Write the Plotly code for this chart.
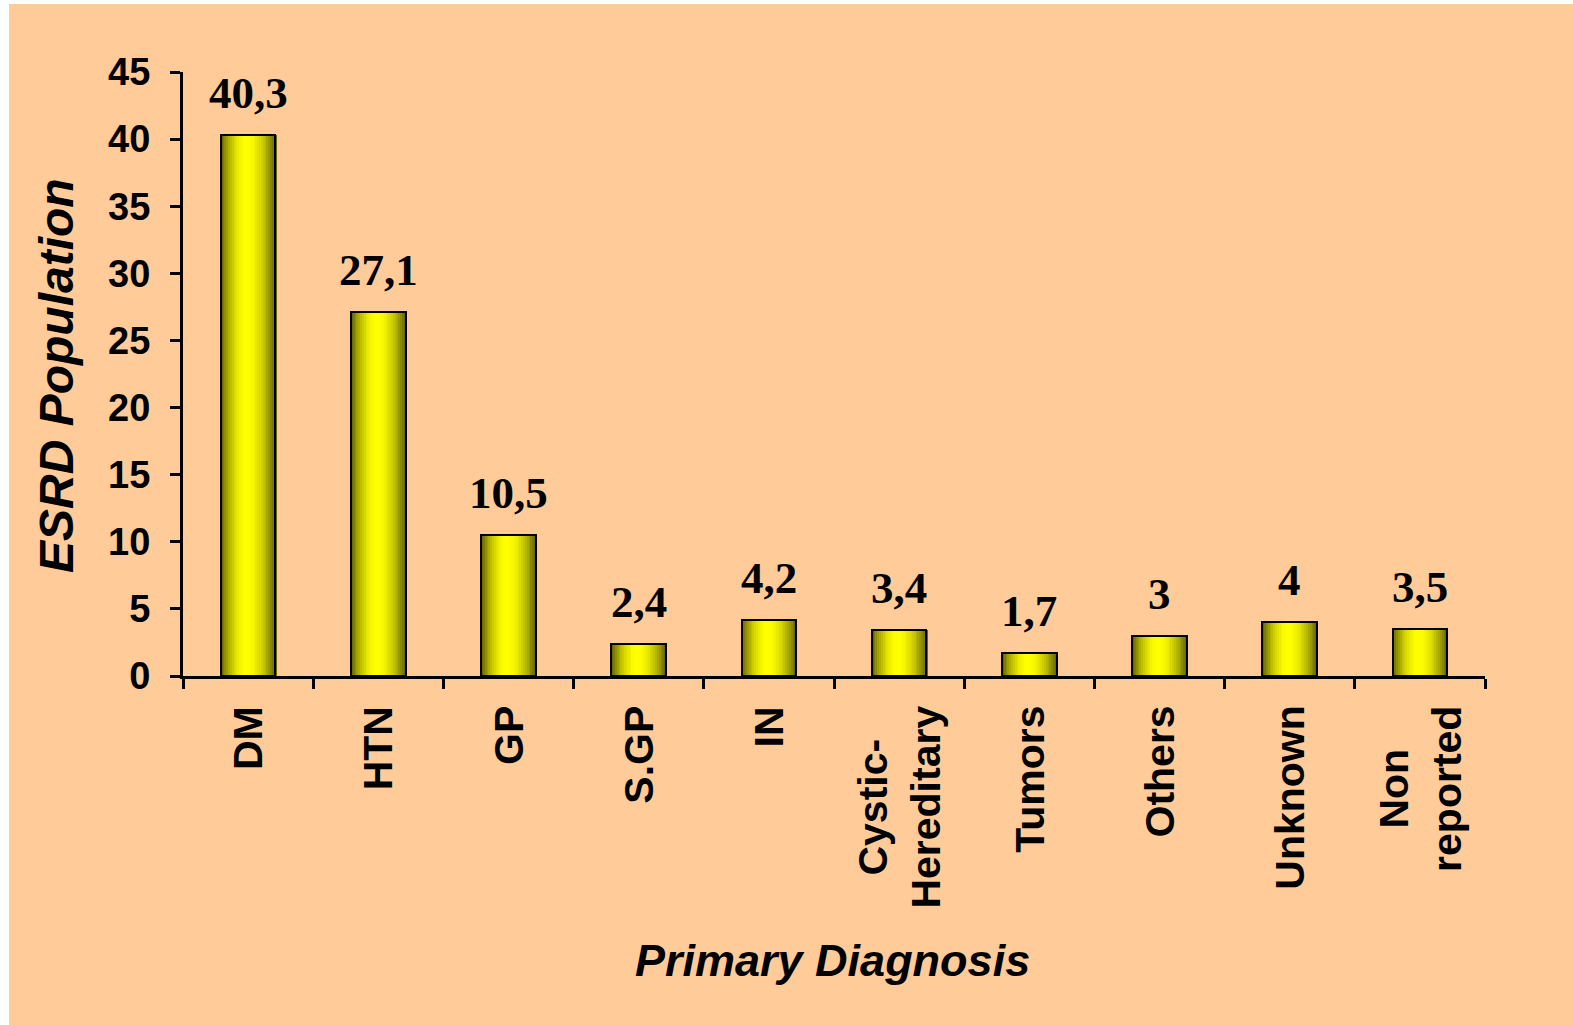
import math
import plotly.graph_objects as go

# Primary diagnosis of the ESRD population (%)
categories = ["DM", "HTN", "GP", "S.GP", "IN", "Cystic-<br>Hereditary",
              "Tumors", "Others", "Unknown", "Non<br>reported"]
values = [40.3, 27.1, 10.5, 2.4, 4.2, 3.4, 1.7, 3, 4, 3.5]
y_ticks = [0, 5, 10, 15, 20, 25, 30, 35, 40, 45]

BG = "#FFCC99"
SANS = "Liberation Sans"
SERIF = "Liberation Serif"

W, H = 1573, 1025
ML, MR, MT, MB = 183, 88, 72, 349

BAR_W = 0.42
N_STRIPS = 30


def shade(t):
    """Cylinder-like brightness across a bar (t from 0 to 1)."""
    peak = 0.47
    d = (t - peak) / (peak if t < peak else 1 - peak)
    lo = 0.36
    b = lo + (1 - lo) * max(0.0, math.cos(d * math.pi / 2)) ** 0.9
    v = int(round(255 * b))
    return f"rgb({v},{v},0)"


fig = go.Figure()

# Shaded fill, built from thin vertical strips of each bar
step = BAR_W / N_STRIPS
for i in range(N_STRIPS):
    t = (i + 0.5) / N_STRIPS
    fig.add_trace(go.Bar(
        x=categories, y=values,
        width=step * 1.6, offset=-BAR_W / 2 + i * step,
        marker=dict(color=shade(t), line=dict(width=0)),
        hoverinfo="skip", showlegend=False,
    ))

# Outline of each bar
fig.add_trace(go.Bar(
    x=categories, y=values,
    width=BAR_W, offset=-BAR_W / 2,
    marker=dict(color="rgba(0,0,0,0)", line=dict(color="black", width=2)),
    showlegend=False,
))

annotations = []
# Value labels above the bars
for c, v in zip(categories, values):
    annotations.append(dict(
        x=c, y=v, xref="x", yref="y",
        text=f"{v:g}".replace(".", ","),
        showarrow=False, yanchor="bottom", yshift=15,
        font=dict(family=SERIF, size=45, color="black", weight="bold"),
    ))

# Rotated category labels under the axis
for c in categories:
    annotations.append(dict(
        x=c, y=0, xref="x", yref="paper",
        text=c, textangle=-90, align="center",
        showarrow=False, yanchor="top", yshift=-28,
        font=dict(family=SANS, size=41, color="black", weight="bold"),
    ))

# Axis titles
annotations.append(dict(
    x=0.5, y=0, xref="paper", yref="paper",
    text="Primary Diagnosis", showarrow=False,
    xanchor="center", yanchor="middle", xshift=-2, yshift=-284,
    font=dict(family=SANS, size=45, color="black", weight="bold", style="italic"),
))
annotations.append(dict(
    x=0, y=0.5, xref="paper", yref="paper",
    text="ESRD Population", showarrow=False, textangle=-90,
    xanchor="center", yanchor="middle", xshift=-127, yshift=-2,
    font=dict(family=SANS, size=48, color="black", weight="bold", style="italic"),
))

shapes = [
    # thin white margin on the left and top of the page
    dict(type="rect", xref="paper", yref="paper", xsizemode="pixel",
         xanchor=0, x0=-ML - 20, x1=-ML + 9, y0=-1, y1=2,
         fillcolor="white", line=dict(width=0), layer="below"),
    dict(type="rect", xref="paper", yref="paper", ysizemode="pixel",
         yanchor=1, y0=MT - 4, y1=MT + 20, x0=-1, x1=2,
         fillcolor="white", line=dict(width=0), layer="below"),
]

fig.update_layout(
    width=W, height=H, autosize=False,
    margin=dict(l=ML, r=MR, t=MT, b=MB, pad=0),
    paper_bgcolor=BG, plot_bgcolor=BG,
    barmode="overlay", bargap=0,
    showlegend=False,
    annotations=annotations,
    shapes=shapes,
    xaxis=dict(
        type="category", range=[-0.5, len(categories) - 0.5],
        tickson="boundaries", ticks="outside", ticklen=10, tickwidth=3,
        tickcolor="black", showticklabels=False,
        showline=True, linecolor="black", linewidth=3,
        showgrid=False, zeroline=False, fixedrange=True,
    ),
    yaxis=dict(
        range=[0, 45], tickvals=y_ticks, ticktext=[str(t) for t in y_ticks],
        ticks="outside", ticklen=10, tickwidth=3, tickcolor="black",
        ticklabelstandoff=12,
        tickfont=dict(family=SANS, size=38, color="black", weight="bold"),
        showline=True, linecolor="black", linewidth=3,
        showgrid=False, zeroline=False, fixedrange=True,
    ),
)

fig.write_html("out.html", config={"displayModeBar": False})
